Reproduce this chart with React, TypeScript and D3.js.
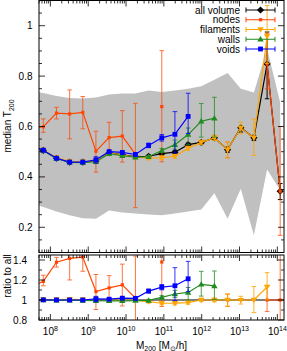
import React from "react";
import * as d3 from "d3";

// ---------- data ----------
const massBins = [
  2.92e7, 6.5e7, 1.45e8, 3.23e8, 7.19e8, 1.6e9, 3.57e9, 7.96e9, 1.77e10, 3.95e10,
  8.81e10, 1.96e11, 4.38e11, 9.75e11, 2.17e12, 4.84e12, 1.08e13, 2.4e13, 5.36e13, 1.19e14,
];

const bandHi = [0.743, 0.733, 0.721, 0.713, 0.711, 0.715, 0.727, 0.731, 0.731, 0.743, 0.737, 0.743, 0.75, 0.76, 0.786, 0.812, 0.75, 0.735, 0.909, 0.695];
const bandLo = [0.295, 0.281, 0.263, 0.248, 0.236, 0.234, 0.267, 0.259, 0.255, 0.251, 0.248, 0.255, 0.263, 0.271, 0.335, 0.234, 0.353, 0.168, 0.429, 0.347];

type V = number | null;

const allVal: V[] = [0.525, 0.505, 0.474, 0.459, 0.459, 0.463, 0.496, 0.488, 0.481, 0.482, 0.492, 0.498, 0.528, 0.537, 0.555, 0.508, 0.595, 0.555, 0.848, 0.343];
const allLo: V[] = [0.521, 0.501, 0.47, 0.455, 0.455, 0.459, 0.492, 0.484, 0.477, 0.478, 0.488, 0.494, 0.522, 0.531, 0.549, 0.498, 0.578, 0.545, 0.71, 0.31];
const allHi: V[] = [0.529, 0.509, 0.478, 0.463, 0.463, 0.467, 0.5, 0.492, 0.485, 0.486, 0.496, 0.502, 0.534, 0.543, 0.561, 0.518, 0.6, 0.565, 0.975, 0.374];

const nodesVal: V[] = [0.59, 0.599, 0.653, 0.65, 0.656, 0.502, 0.556, 0.562, 0.49, null, 0.679, null, null, null, null, 0.508, null, null, 0.848, 0.343];
const nodesLo: V[] = [0.56, 0.577, 0.63, 0.551, 0.591, 0.419, 0.485, 0.459, 0.278, null, 0.46, null, null, null, null, 0.476, null, null, 0.75, 0.168];
const nodesHi: V[] = [0.62, 0.63, 0.676, 0.745, 0.719, 0.581, 0.617, 0.663, 0.692, null, 0.901, null, null, null, null, 0.538, null, null, 0.97, 0.6];

const filVal: V[] = [0.527, 0.507, 0.476, 0.462, 0.461, 0.464, 0.495, 0.487, 0.479, 0.474, 0.476, 0.482, 0.514, 0.537, 0.555, 0.508, 0.594, 0.555, 0.958, null];
const filLo: V[] = [0.523, 0.503, 0.472, 0.458, 0.457, 0.46, 0.491, 0.483, 0.475, 0.468, 0.469, 0.474, 0.506, 0.528, 0.545, 0.476, 0.571, 0.485, 0.85, null];
const filHi: V[] = [0.531, 0.511, 0.48, 0.466, 0.465, 0.468, 0.499, 0.491, 0.483, 0.48, 0.483, 0.49, 0.522, 0.546, 0.565, 0.538, 0.617, 0.63, 1.08, null];

const wallVal: V[] = [0.525, 0.505, 0.473, 0.458, 0.457, 0.46, 0.492, 0.484, 0.478, 0.48, 0.505, 0.528, 0.568, 0.621, 0.633, null, null, null, null, null];
const wallLo: V[] = [0.521, 0.501, 0.469, 0.454, 0.453, 0.456, 0.488, 0.48, 0.474, 0.475, 0.497, 0.51, 0.528, 0.558, 0.558, null, null, null, null, null];
const wallHi: V[] = [0.529, 0.509, 0.477, 0.462, 0.461, 0.464, 0.496, 0.488, 0.482, 0.485, 0.513, 0.546, 0.594, 0.691, 0.716, null, null, null, null, null];

const voidVal: V[] = [0.527, 0.506, 0.474, 0.459, 0.459, 0.468, 0.5, 0.497, 0.489, 0.525, 0.555, 0.569, 0.64, null, null, null, null, null, null, null];
const voidLo: V[] = [0.523, 0.502, 0.47, 0.455, 0.455, 0.455, 0.494, 0.49, 0.482, 0.516, 0.542, 0.495, 0.572, null, null, null, null, null, null, null];
const voidHi: V[] = [0.531, 0.51, 0.478, 0.463, 0.463, 0.48, 0.506, 0.504, 0.496, 0.534, 0.568, 0.659, 0.732, null, null, null, null, null, null, null];

const legendLabels = ["all volume", "nodes", "filaments", "walls", "voids"];
const mainYTicks = [0.2, 0.4, 0.6, 0.8, 1];
const ratioYTicks = [0.8, 1, 1.2, 1.4];
const xTickExps = [8, 9, 10, 11, 12, 13, 14];

// ---------- layout ----------
const W = 287;
const H = 351;
const PX0 = 39;
const PX1 = 284;
const FONT = "'Liberation Sans', Arial, Helvetica, sans-serif";

const x = d3.scaleLog().domain([5e7, 1.5e14]).range([PX0, PX1]);
const yM = d3.scaleLinear().domain([0.1, 1.1]).range([252.5, 0.5]);
const yR = d3.scaleLinear().domain([0.8, 1.45]).range([320, 255]);

type Series = {
  name: string;
  color: string;
  marker: string;
  val: V[];
  lo: V[];
  hi: V[];
  ebOpacity: number;
};

const series: Series[] = [
  { name: "all volume", color: "#000000", marker: "diamond", val: allVal, lo: allLo, hi: allHi, ebOpacity: 1 },
  { name: "nodes", color: "#ff4500", marker: "small", val: nodesVal, lo: nodesLo, hi: nodesHi, ebOpacity: 0.75 },
  { name: "filaments", color: "#ffa500", marker: "tridown", val: filVal, lo: filLo, hi: filHi, ebOpacity: 0.85 },
  { name: "walls", color: "#228b22", marker: "triup", val: wallVal, lo: wallLo, hi: wallHi, ebOpacity: 0.8 },
  { name: "voids", color: "#0000ff", marker: "square", val: voidVal, lo: voidLo, hi: voidHi, ebOpacity: 0.8 },
];

function Marker({ type, cx, cy, color }: { type: string; cx: number; cy: number; color: string }) {
  if (type === "diamond") {
    const r = 3.6;
    return <path d={`M${cx},${cy - r}L${cx + r},${cy}L${cx},${cy + r}L${cx - r},${cy}Z`} fill={color} />;
  }
  if (type === "square") {
    const r = 2.4;
    return <rect x={cx - r} y={cy - r} width={2 * r} height={2 * r} fill={color} />;
  }
  if (type === "small") {
    const r = 1.6;
    return <rect x={cx - r} y={cy - r} width={2 * r} height={2 * r} fill={color} />;
  }
  if (type === "triup") {
    const r = 3.2;
    return <path d={`M${cx},${cy - r}L${cx + r},${cy + r * 0.7}L${cx - r},${cy + r * 0.7}Z`} fill={color} />;
  }
  const r = 3.2;
  return <path d={`M${cx},${cy + r}L${cx + r},${cy - r * 0.7}L${cx - r},${cy - r * 0.7}Z`} fill={color} />;
}

function SeriesLayer({ s, y, ratio }: { s: Series; y: d3.ScaleLinear<number, number>; ratio: boolean }) {
  const conv = (arr: V[], i: number): number | null => {
    const v = arr[i];
    if (v == null) return null;
    if (!ratio) return v;
    const a = allVal[i];
    return a == null ? null : v / a;
  };
  const pts = massBins.map((m, i) => ({ m, v: conv(s.val, i), lo: conv(s.lo, i), hi: conv(s.hi, i) }));
  const line = d3
    .line<{ m: number; v: number | null }>()
    .defined((d) => d.v != null)
    .x((d) => x(d.m))
    .y((d) => y(d.v as number));
  const cap = 2.3;
  return (
    <g>
      <path d={line(pts) || ""} fill="none" stroke={s.color} strokeWidth={1.2} />
      {pts.map((p, i) =>
        p.v == null || p.lo == null || p.hi == null ? null : (
          <g key={"e" + i} stroke={s.color} strokeWidth={1} opacity={s.ebOpacity}>
            <line x1={x(p.m)} x2={x(p.m)} y1={y(p.lo)} y2={y(p.hi)} />
            <line x1={x(p.m) - cap} x2={x(p.m) + cap} y1={y(p.lo)} y2={y(p.lo)} />
            <line x1={x(p.m) - cap} x2={x(p.m) + cap} y1={y(p.hi)} y2={y(p.hi)} />
          </g>
        )
      )}
      {pts.map((p, i) =>
        p.v == null ? null : <Marker key={"m" + i} type={s.marker} cx={x(p.m)} cy={y(p.v)} color={s.color} />
      )}
    </g>
  );
}

function XTicks({ yPos, dir }: { yPos: number; dir: number }) {
  const [d0, d1] = x.domain();
  const ticks: { v: number; major: boolean }[] = [];
  for (let e = 7; e <= 14; e++) {
    for (let k = 1; k <= 9; k++) {
      const v = k * Math.pow(10, e);
      if (v >= d0 && v <= d1) ticks.push({ v, major: k === 1 });
    }
  }
  return (
    <g stroke="#000" strokeWidth={0.8}>
      {ticks.map((t, i) => (
        <line key={i} x1={x(t.v)} x2={x(t.v)} y1={yPos} y2={yPos + dir * (t.major ? 6 : 3)} />
      ))}
    </g>
  );
}

function YTicks({ scale, vals, minorStep, lo, hi }: { scale: d3.ScaleLinear<number, number>; vals: number[]; minorStep: number; lo: number; hi: number }) {
  const n = Math.round((hi - lo) / minorStep);
  const items: { v: number; major: boolean }[] = [];
  for (let i = 0; i <= n; i++) {
    const v = lo + i * minorStep;
    const major = vals.some((t) => Math.abs(t - v) < 1e-6);
    items.push({ v, major });
  }
  return (
    <g stroke="#000" strokeWidth={0.8}>
      {items.map((t, i) => {
        const yy = scale(t.v);
        const len = t.major ? 6 : 3;
        return (
          <g key={i}>
            <line x1={PX0} x2={PX0 + len} y1={yy} y2={yy} />
            <line x1={PX1} x2={PX1 - len} y1={yy} y2={yy} />
          </g>
        );
      })}
    </g>
  );
}

export default function App() {
  const bandArea = d3
    .area<number>()
    .x((_, i) => x(massBins[i]))
    .y0((_, i) => yM(bandLo[i]))
    .y1((_, i) => yM(bandHi[i]));

  const mainTop = yM.range()[1];
  const mainBot = yM.range()[0];
  const rTop = yR.range()[1];
  const rBot = yR.range()[0];

  return (
    <svg
      width={W}
      height={H}
      viewBox={`0 0 ${W} ${H}`}
      style={{ position: "absolute", left: 0, top: 0, background: "#fff" }}
      fontFamily={FONT}
    >
      <defs>
        <clipPath id="clipMain">
          <rect x={PX0} y={mainTop} width={PX1 - PX0} height={mainBot - mainTop} />
        </clipPath>
        <clipPath id="clipRatio">
          <rect x={PX0} y={rTop} width={PX1 - PX0} height={rBot - rTop} />
        </clipPath>
      </defs>
      <rect x={0} y={0} width={W} height={H} fill="#fff" />

      {/* main panel */}
      <g clipPath="url(#clipMain)">
        <path d={bandArea(bandHi) || ""} fill="#c0c0c0" />
        {series.map((s) => (
          <SeriesLayer key={s.name} s={s} y={yM} ratio={false} />
        ))}
      </g>
      <YTicks scale={yM} vals={mainYTicks} minorStep={0.05} lo={0.1} hi={1.1} />
      <XTicks yPos={mainBot} dir={-1} />
      <XTicks yPos={mainTop} dir={1} />
      <rect x={PX0} y={mainTop} width={PX1 - PX0} height={mainBot - mainTop} fill="none" stroke="#000" strokeWidth={1} />
      {mainYTicks.map((t) => (
        <text key={t} x={32.5} y={yM(t)} dy="0.35em" textAnchor="end" fontSize={10}>
          {d3.format("")(t)}
        </text>
      ))}
      <text transform={`translate(11,126) rotate(-90)`} textAnchor="middle" fontSize={10}>
        median T<tspan fontSize={7} dy={2.5}>200</tspan>
      </text>

      {/* legend */}
      {series.map((s, i) => {
        const yy = 10 + i * 9.75;
        const xa = 246;
        const xb = 275;
        return (
          <g key={"lg" + i}>
            <text x={240} y={yy} dy="0.35em" textAnchor="end" fontSize={10}>
              {legendLabels[i]}
            </text>
            <g stroke={s.color} strokeWidth={1}>
              <line x1={xa} x2={xb} y1={yy} y2={yy} />
              <line x1={xa} x2={xa} y1={yy - 2.5} y2={yy + 2.5} />
              <line x1={xb} x2={xb} y1={yy - 2.5} y2={yy + 2.5} />
            </g>
            <Marker type={s.marker === "small" ? "small" : s.marker} cx={(xa + xb) / 2} cy={yy} color={s.color} />
          </g>
        );
      })}

      {/* ratio panel */}
      <g clipPath="url(#clipRatio)">
        <line x1={PX0} x2={PX1} y1={yR(1)} y2={yR(1)} stroke="#000" strokeWidth={1.2} />
        {series.slice(1).map((s) => (
          <SeriesLayer key={s.name} s={s} y={yR} ratio={true} />
        ))}
      </g>
      <YTicks scale={yR} vals={ratioYTicks} minorStep={0.1} lo={0.8} hi={1.4} />
      <XTicks yPos={rBot} dir={-1} />
      <XTicks yPos={rTop} dir={1} />
      <rect x={PX0} y={rTop} width={PX1 - PX0} height={rBot - rTop} fill="none" stroke="#000" strokeWidth={1} />
      {ratioYTicks.map((t) => (
        <text key={t} x={27} y={yR(t)} dy="0.35em" textAnchor="end" fontSize={10}>
          {d3.format("")(t)}
        </text>
      ))}
      <text transform={`translate(11,276) rotate(-90)`} textAnchor="middle" fontSize={10}>
        ratio to all
      </text>

      {/* x tick labels */}
      {xTickExps.map((e) => (
        <text key={e} x={x(Math.pow(10, e))} y={334.5} textAnchor="middle" fontSize={10}>
          10<tspan fontSize={7} dy={-4}>{e}</tspan>
        </text>
      ))}
      <text x={161.5} y={348.5} textAnchor="middle" fontSize={10}>
        M<tspan fontSize={7} dy={2.5}>200</tspan>
        <tspan dy={-2.5}> [M</tspan>
        <tspan fontSize={7} dy={2.5}>⊙</tspan>
        <tspan dy={-2.5}>/h]</tspan>
      </text>
    </svg>
  );
}
